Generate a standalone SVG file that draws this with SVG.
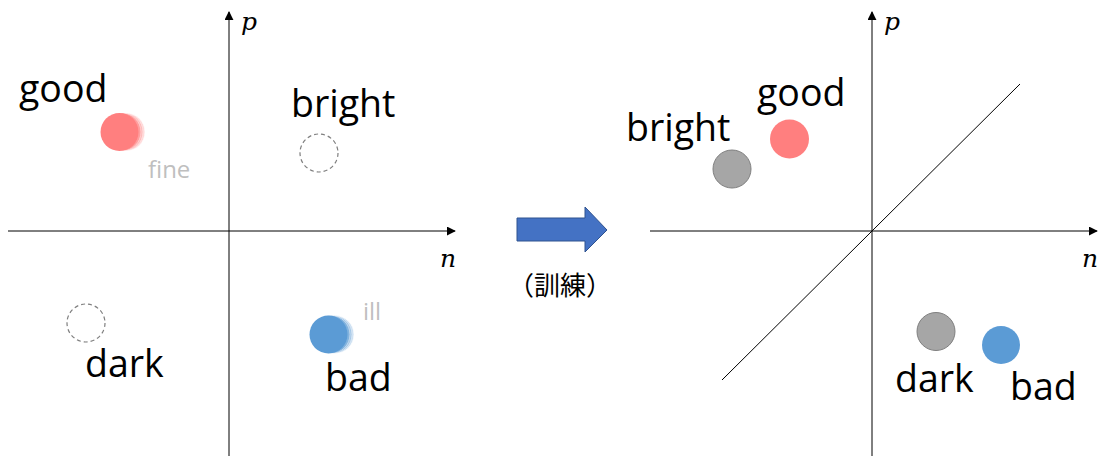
<svg xmlns="http://www.w3.org/2000/svg" width="1105" height="456" viewBox="0 0 1105 456">
<defs>
<marker id="ah" viewBox="0 0 10 10" refX="9" refY="5" markerWidth="9" markerHeight="9" markerUnits="userSpaceOnUse" orient="auto">
<path d="M0,0 L10,5 L0,10 Z" fill="#000"/>
</marker>
<style>
.ax{stroke:#000;stroke-width:1;fill:none}
.w{font-family:"Open Sans","Noto Sans",sans-serif;font-size:37.5px;fill:#000}
.g{font-family:"Open Sans","Noto Sans",sans-serif;font-size:24px;fill:#bfbfbf}
.m{font-family:"DejaVu Serif","Liberation Serif",serif;font-style:italic;font-size:25px;fill:#000}
.pink{fill:#ff7f7f}
.blue{fill:#5b9bd5}
.gp{fill:#ff7f7f;stroke:#fff;stroke-width:0.8}
.gb{fill:#5b9bd5;stroke:#fff;stroke-width:0.8}
.grey{fill:#a6a6a6;stroke:#7f7f7f;stroke-width:1}
.dash{fill:none;stroke:#7f7f7f;stroke-width:1.2;stroke-dasharray:4,3}
</style>
</defs>
<g id="connectors">
<line class="ax" x1="229" y1="456" x2="229" y2="12" marker-end="url(#ah)"/>
<line class="ax" x1="8" y1="231" x2="455" y2="231" marker-end="url(#ah)"/>
<line class="ax" x1="872" y1="456" x2="872" y2="12" marker-end="url(#ah)"/>
<line class="ax" x1="650" y1="231" x2="1097" y2="231" marker-end="url(#ah)"/>
<line class="ax" x1="722" y1="380" x2="1020" y2="84"/>
</g>
<g id="axis-labels">
<text class="m" x="241" y="30">p</text>
<text class="m" x="440" y="267">n</text>
<text class="m" x="884" y="30">p</text>
<text class="m" x="1082" y="267">n</text>
</g>
<g id="left-good">
<circle class="gp" cx="126" cy="132" r="19" opacity="0.3"/>
<circle class="gp" cx="124" cy="132" r="19" opacity="0.35"/>
<circle class="gp" cx="122" cy="132" r="19" opacity="0.45"/>
<circle class="pink" cx="119.5" cy="132" r="19"/>
<text class="w" x="19" y="102">good</text>
<text class="g" x="148" y="178">fine</text>
</g>
<g id="left-bright">
<circle class="dash" cx="319" cy="153" r="19"/>
<text class="w" x="291" y="117">bright</text>
</g>
<g id="left-dark">
<circle class="dash" cx="86" cy="323" r="19"/>
<text class="w" x="85" y="377">dark</text>
</g>
<g id="left-bad">
<circle class="gb" cx="335" cy="334.5" r="19" opacity="0.3"/>
<circle class="gb" cx="333" cy="334.5" r="19" opacity="0.35"/>
<circle class="gb" cx="331" cy="334.5" r="19" opacity="0.45"/>
<circle class="blue" cx="328.5" cy="334.5" r="19"/>
<text class="w" x="325" y="391">bad</text>
<text class="g" x="363" y="320">ill</text>
</g>
<g id="training-arrow">
<path d="M517,218 L585,218 L585,207 L607,230 L585,252 L585,241 L517,241 Z" fill="#4472c4" stroke="#2f528f" stroke-width="1"/>
<text x="560" y="295" text-anchor="middle" font-family="'Noto Sans CJK JP','Noto Sans CJK SC',sans-serif" font-size="26" fill="#000">（訓練）</text>
</g>
<g id="right-bright">
<circle class="grey" cx="732" cy="169" r="19"/>
<text class="w" x="626" y="141">bright</text>
</g>
<g id="right-good">
<circle class="pink" cx="789.5" cy="139" r="19.5"/>
<text class="w" x="757" y="106">good</text>
</g>
<g id="right-dark">
<circle class="grey" cx="936" cy="331.5" r="19"/>
<text class="w" x="895" y="392">dark</text>
</g>
<g id="right-bad">
<circle class="blue" cx="1001" cy="345" r="19"/>
<text class="w" x="1010" y="400">bad</text>
</g>
</svg>
